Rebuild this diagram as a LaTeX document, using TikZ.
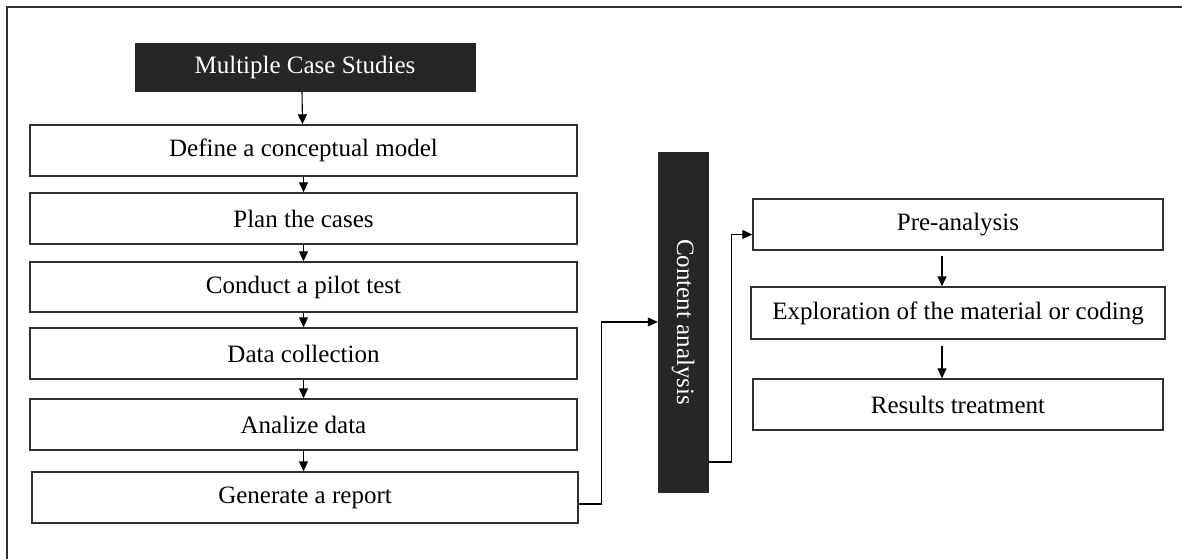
\documentclass[tikz,border=0pt]{standalone}
\usepackage{fontspec}
\setmainfont{Liberation Serif}
\usetikzlibrary{arrows.meta}
\definecolor{darkfill}{HTML}{262626}
\definecolor{edge}{HTML}{303030}
\tikzset{
  whitebox/.style={draw=edge, line width=1.4pt, fill=white, inner sep=0pt,
    font=\fontsize{25}{30}\selectfont, text=black},
  blackbox/.style={draw=darkfill, fill=darkfill, inner sep=0pt,
    font=\fontsize{25}{30}\selectfont, text=white},
  arr/.style={draw=black, line width=1.1pt, -{Triangle[length=10pt,width=9pt]}},
  frameline/.style={draw=edge, line width=1.6pt}
}
\begin{document}
\begin{tikzpicture}[x=1pt,y=-1pt]
\useasboundingbox (0,0) rectangle (1182,559);
% frame (top and left edges visible)
\coordinate (f1) at (1182,7);
\coordinate (f2) at (7,7);
\coordinate (f3) at (7,559);
\draw[frameline] (f1) -- (f2) -- (f3);

% left column
\node[blackbox, minimum width=340pt, minimum height=48pt] (mcs) at (305,67) {Multiple Case Studies};
\node[whitebox, minimum width=547pt, minimum height=51pt] (def) at (303.5,150.5) {Define a conceptual model};
\node[whitebox, minimum width=547pt, minimum height=51pt] (plan) at (303.5,218.5) {Plan the cases};
\node[whitebox, minimum width=547pt, minimum height=50pt] (pilot) at (303.5,287) {Conduct a pilot test};
\node[whitebox, minimum width=547pt, minimum height=51pt] (data) at (303.5,353.5) {Data collection};
\node[whitebox, minimum width=547pt, minimum height=51pt] (anal) at (303.5,424.5) {Analize data};
\node[whitebox, minimum width=546pt, minimum height=51pt] (gen) at (305,497.5) {Generate a report};

% content analysis
\node[blackbox, minimum width=50pt, minimum height=340pt] (ca) at (683,322) {};
\node[rotate=-90, text=white, font=\fontsize{25}{30}\selectfont, inner sep=0pt] (catext) at (ca.center) {Content analysis};

% right column
\node[whitebox, minimum width=410pt, minimum height=51pt] (pre) at (958,224.5) {Pre-analysis};
\node[whitebox, minimum width=414pt, minimum height=52pt] (exp) at (958,313) {Exploration of the material or coding};
\node[whitebox, minimum width=410pt, minimum height=51pt] (res) at (958,404.5) {Results treatment};

% arrows left column
\draw[arr] ([xshift=-3pt]mcs.south) -- ([xshift=-1pt]def.north);
\draw[arr] (def.south) -- (plan.north);
\draw[arr] (plan.south) -- (pilot.north);
\draw[arr] (pilot.south) -- (data.north);
\draw[arr] (data.south) -- (anal.north);
\draw[arr] (anal.south) -- ([xshift=-1.5pt]gen.north);

% connectors between columns
\draw[arr] ([yshift=-6.5pt]gen.east) -- ++(23,0) |- (ca.west);
\draw[arr] ([yshift=-140pt]ca.east) -- ++(23,0) |- ([yshift=-10pt]pre.west);

% arrows right column
\draw[arr, shorten <=5pt] ([xshift=-16pt]pre.south) -- ([xshift=-16pt]exp.north);
\draw[arr, shorten <=6pt] ([xshift=-16pt]exp.south) -- ([xshift=-16pt]res.north);
\end{tikzpicture}
\end{document}
